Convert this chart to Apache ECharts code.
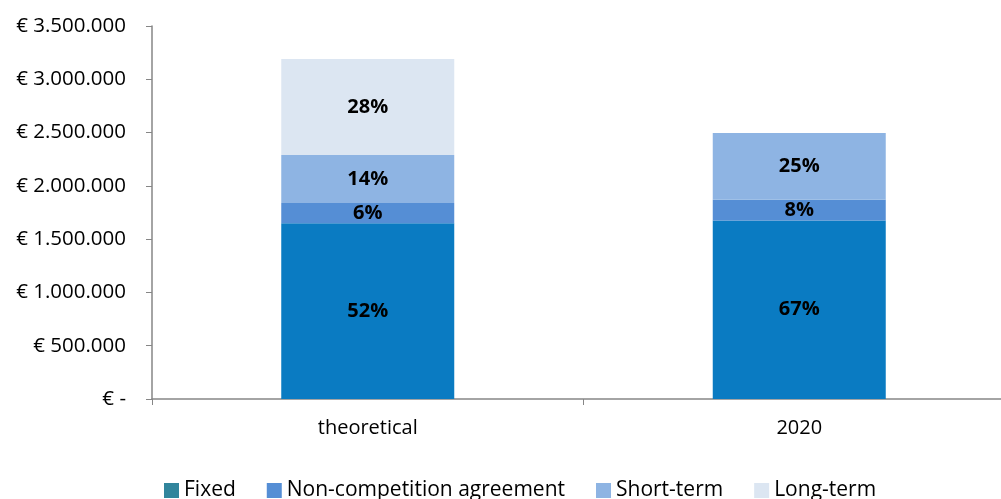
<!DOCTYPE html>
<html>
<head>
<meta charset="utf-8">
<script src="https://cdn.jsdelivr.net/npm/echarts@6/dist/echarts.min.js"></script>
<style>
  html, body { margin: 0; padding: 0; background: #fff; }
  #chart { width: 1001px; height: 499px; }
</style>
</head>
<body>
<div id="chart"></div>
<script>
// Remuneration components per scenario (euro)
const categories = ['theoretical', '2020'];
const seriesNames = ['Fixed', 'Non-competition agreement', 'Short-term', 'Long-term'];
const fixedValues = [1650000, 1675000];
const nonCompeteValues = [190000, 195000];
const shortTermValues = [450000, 625000];
const longTermValues = [900000, 0];

const barColors = ['#0A7BC2', '#558ED5', '#8EB4E3', '#DCE6F2'];
const legendColors = ['#31859C', '#558ED5', '#8EB4E3', '#DCE6F2'];

const allValues = [fixedValues, nonCompeteValues, shortTermValues, longTermValues];
const totals = categories.map((_, i) => allValues.reduce((s, arr) => s + arr[i], 0));

function euro(v) {
  if (v === 0) return '€ -';
  return '€ ' + String(v).replace(/\B(?=(\d{3})+(?!\d))/g, '.');
}

const fontFamily = '"Open Sans", "Noto Sans", sans-serif';

const chart = echarts.init(document.getElementById('chart'), null, { renderer: 'canvas' });

chart.setOption({
  animation: false,
  textStyle: { fontFamily },
  // plot area runs a little past the right edge of the canvas
  grid: { left: 152, width: 863, top: 26, height: 373, outerBoundsMode: 'none' },
  legend: {
    top: 475,
    left: 159,
    itemWidth: 15,
    itemHeight: 15,
    itemGap: 31,
    icon: 'rect',
    textStyle: { fontSize: 21, color: '#000', fontFamily },
    data: seriesNames.map((n, i) => ({ name: n, itemStyle: { color: legendColors[i] } }))
  },
  xAxis: {
    type: 'category',
    data: categories,
    axisLine: { lineStyle: { color: '#868686', width: 1.5 } },
    axisTick: { show: true, length: 6, lineStyle: { color: '#868686' } },
    axisLabel: { color: '#000', fontSize: 20, margin: 19 }
  },
  yAxis: {
    type: 'value',
    min: 0,
    max: 3500000,
    interval: 500000,
    splitLine: { show: false },
    axisLine: { show: true, lineStyle: { color: '#868686', width: 1.5 } },
    axisTick: { show: true, length: 6, lineStyle: { color: '#868686' } },
    axisLabel: { color: '#000', fontSize: 20.5, margin: 26, formatter: euro }
  },
  series: seriesNames.map((name, si) => ({
    name,
    type: 'bar',
    stack: 'total',
    barWidth: 173,
    itemStyle: { color: barColors[si] },
    label: {
      show: true,
      position: 'inside',
      color: '#000',
      fontWeight: 'bold',
      fontSize: 20,
      formatter: p => p.value > 0 ? Math.round(p.value / totals[p.dataIndex] * 100) + '%' : ''
    },
    data: allValues[si]
  }))
});
</script>
</body>
</html>
